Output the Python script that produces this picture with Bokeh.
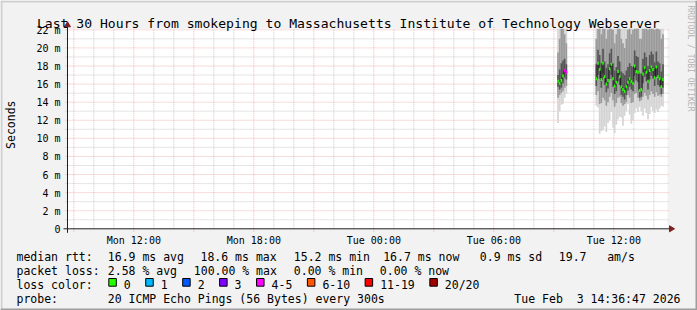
import math
from bokeh.plotting import figure
from bokeh.models import Range1d, Label
from bokeh.core.properties import value
from bokeh.embed import file_html
from bokeh.resources import INLINE

# ---------------- data ----------------
title_text = "Last 30 Hours from smokeping to Massachusetts Institute of Technology Webserver"
y_label = "Seconds"
y_ticks = [0, 2, 4, 6, 8, 10, 12, 14, 16, 18, 20, 22]
y_tick_labels = ["0", "2 m", "4 m", "6 m", "8 m", "10 m", "12 m", "14 m", "16 m", "18 m", "20 m", "22 m"]
x_tick_labels = ["Mon 12:00", "Mon 18:00", "Tue 00:00", "Tue 06:00", "Tue 12:00"]

graph_start = "Mon 08:41"
graph_hours = 30
y_top_ms = 22.11
step_minutes = 5

# chunk 1 (Tue ~09:10)
c1_start = "Tue 09:10"
c1_median = [16.3, 16.1, 16.4, 16.9, 17.5, 17.3]
c1_loss = [0, 0, 0, 0, 4, 4]
c1_min = [11.7, 13.0, 13.7, 13.8, 14.5, 14.9]
c1_p20 = [14.5, 14.8, 15.0, 15.2, 15.6, 15.8]
c1_p40 = [15.7, 15.4, 15.6, 16.1, 16.7, 16.5]
c1_p60 = [17.0, 17.6, 18.3, 18.6, 18.8, 18.2]
c1_p80 = [19.5, 21.0, 22.5, 22.8, 21.5, 20.5]
c1_max = [24.0, 25.0, 25.5, 25.0, 24.0, 23.0]

# chunk 2 (Tue 11:05 .. 14:30)
c2_start = "Tue 11:05"
c2_median = [16.6, 18.3, 17.6, 16.5, 18.3, 16.8, 16.0, 16.4, 17.7, 18.2, 16.6, 15.8, 16.2, 17.4,
             16.8, 15.7, 15.4, 15.2, 15.7, 16.2, 16.6, 16.3, 16.1, 18.0, 17.4, 17.3, 15.3, 15.4,
             17.1, 17.8, 17.3, 16.3, 17.5, 17.9, 17.6, 16.7, 17.9, 16.8, 16.6, 15.7, 16.5]
c2_loss = [0] * 41
c2_min = [13.6, 13.4, 10.5, 10.8, 10.9, 11.3, 10.7, 11.7, 12.0, 12.9, 11.2, 10.6, 11.5, 12.1,
          12.4, 12.3, 11.4, 12.5, 13.0, 13.8, 12.6, 11.6, 12.0, 12.8, 13.3, 12.9, 13.5, 13.0,
          12.5, 13.3, 12.8, 12.1, 12.7, 13.5, 13.0, 12.8, 13.2, 12.9, 13.3, 13.6, 13.5]
c2_p20 = [14.8, 15.2, 13.8, 13.9, 14.5, 14.2, 13.6, 14.0, 14.6, 15.0, 14.2, 13.5, 13.9, 14.5,
          14.6, 13.9, 13.6, 13.8, 14.0, 14.8, 14.5, 13.9, 14.0, 14.9, 15.0, 14.5, 14.1, 14.2,
          14.6, 15.0, 14.7, 14.3, 14.8, 15.2, 14.9, 14.6, 15.1, 14.7, 14.8, 14.6, 14.9]
c2_p40 = [15.8, 17.0, 16.6, 15.6, 17.2, 15.9, 15.1, 15.5, 16.6, 17.0, 15.7, 14.9, 15.2, 16.3,
          15.9, 14.8, 14.6, 14.3, 14.8, 15.3, 15.7, 15.4, 15.2, 16.9, 16.4, 16.2, 14.5, 14.6,
          16.1, 16.8, 16.3, 15.4, 16.5, 16.9, 16.6, 15.8, 16.8, 15.9, 15.7, 14.9, 15.6]
c2_p60 = [18.2, 19.8, 19.2, 18.3, 19.9, 18.5, 17.8, 18.2, 19.4, 19.9, 18.3, 17.5, 17.9, 19.1,
          18.5, 17.4, 17.2, 17.0, 17.5, 17.9, 18.3, 18.0, 17.9, 19.7, 19.1, 19.0, 17.1, 17.2,
          18.8, 19.5, 19.0, 18.0, 19.2, 19.6, 19.3, 18.4, 19.6, 18.5, 18.3, 17.4, 18.2]
c2_p80 = [21.0, 23.5, 23.0, 21.5, 23.5, 22.5, 21.0, 22.0, 23.0, 23.5, 22.0, 20.5, 21.5, 23.0,
          22.5, 21.0, 20.5, 20.0, 21.0, 22.0, 22.5, 21.5, 22.0, 23.5, 23.0, 22.5, 21.0, 21.0,
          22.5, 23.5, 23.0, 22.0, 23.0, 23.5, 23.0, 22.0, 23.5, 22.5, 22.0, 21.0, 21.5]
c2_max = [24, 26, 27, 25, 26, 27, 25, 26, 27, 26, 25, 25, 24, 26, 27, 25, 24, 25, 26, 24, 26,
          25, 27, 26, 25, 26, 24, 25, 26, 27, 26, 25, 26, 27, 26, 25, 26, 26, 25, 24, 25]

# legend
rtt_items = ["16.9 ms avg", "18.6 ms max", "15.2 ms min", "16.7 ms now", "0.9 ms sd", "19.7", "am/s"]
loss_items = ["2.58 % avg", "100.00 % max", "0.00 % min", "0.00 % now"]
loss_labels = ["0", "1", "2", "3", "4-5", "6-10", "11-19", "20/20"]
loss_limits = [0, 1, 2, 3, 5, 10, 19, 20]
loss_colors = ["#26ff00", "#00b8ff", "#0059ff", "#7e00ff", "#ff00ff", "#ff5500", "#ff0000", "#a10000"]
probe_text = "20 ICMP Echo Pings (56 Bytes) every 300s"
stamp_text = "Tue Feb\u00a0 3 14:36:47 2026"
watermark = "RRDTOOL / TOBI OETIKER"

# ---------------- layout (page pixels) ----------------
W, H = 697, 310
EDGE = 2
CX0, CY0 = 67.0, 228.3                   # canvas left, zero line
PXH = 1.0 / 20.0                         # hours per pixel
PXV = y_top_ms / 200.0                   # ms per pixel
MONO = "DejaVu Sans Mono"
BACK = "#f2f2f2"
SHADE_A = "#cfcfcf"
SHADE_B = "#9e9e9e"


def hours(s):
    day, hm = s.split()
    hh, mm = hm.split(":")
    return (0 if day == "Mon" else 24) + int(hh) + int(mm) / 60.0


X0 = hours(graph_start)
X1 = X0 + graph_hours


def hx(xp):
    return X0 + (xp - CX0) * PXH


def vy(yp):
    return (CY0 - yp) * PXV


p = figure(width=W, height=H, output_backend="svg", toolbar_location=None, title=None,
           x_range=Range1d(hx(0), hx(W)), y_range=Range1d(vy(H), vy(0)),
           min_border=0, x_axis_type=None, y_axis_type=None)
p.background_fill_color = BACK
p.border_fill_color = BACK
p.outline_line_color = None
p.xgrid.visible = False
p.ygrid.visible = False

# canvas
p.quad(left=[X0], right=[X1], bottom=[0], top=[y_top_ms], fill_color="#ffffff", line_color=None)

# grid
minor_v = [h for h in range(int(math.ceil(X0)), int(X1) + 1) if h % 3 != 0]
major_v = [h for h in range(int(math.ceil(X0)), int(X1) + 1) if h % 3 == 0]
minor_h = [v for v in range(1, int(y_top_ms) + 1) if v % 2 == 1]
major_h = [v for v in range(2, int(y_top_ms) + 1) if v % 2 == 0]
GRID = "#8f8f8f"
MGRID = "#de4f4f"
p.segment(x0=minor_v, x1=minor_v, y0=[0] * len(minor_v), y1=[y_top_ms] * len(minor_v),
          line_color=GRID, line_alpha=0.45, line_dash="1 1", line_width=1)
p.segment(x0=[X0 - 2 * PXH] * len(minor_h), x1=[X1 + 2 * PXH] * len(minor_h), y0=minor_h, y1=minor_h,
          line_color=GRID, line_alpha=0.45, line_dash="1 1", line_width=1)
p.segment(x0=major_v, x1=major_v, y0=[-3 * PXV] * len(major_v), y1=[y_top_ms + 2 * PXV] * len(major_v),
          line_color=MGRID, line_alpha=0.4, line_dash="1 1", line_width=1)
p.segment(x0=[X0 - 2 * PXH] * len(major_h), x1=[X1 + 2 * PXH] * len(major_h), y0=major_h, y1=major_h,
          line_color=MGRID, line_alpha=0.4, line_dash="1 1", line_width=1)

# smoke + median
dt = step_minutes / 60.0


def loss_color(c):
    for lim, col in zip(loss_limits, loss_colors):
        if c <= lim:
            return col
    return loss_colors[-1]


def draw_chunk(start, med, loss, mn, p20, p40, p60, p80, mx):
    t0 = hours(start)
    n = len(med)
    left = [t0 + i * dt for i in range(n)]
    right = [l + dt for l in left]
    mid = [l + dt / 2 for l in left]
    top = [min(v, y_top_ms) for v in mx]
    top80 = [min(v, y_top_ms) for v in p80]
    p.quad(left=left, right=right, bottom=mn, top=top, fill_color="#d4d4d4", line_color=None)
    p.quad(left=left, right=right, bottom=p20, top=top80, fill_color="#9a9a9a", line_color=None)
    p.quad(left=left, right=right, bottom=p40, top=p60, fill_color="#555555", line_color=None)
    p.step(x=left + [right[-1]], y=list(med) + [med[-1]], mode="after",
           line_color="#202020", line_width=1)
    p.rect(x=mid, y=med, width=dt, height=3, height_units="screen",
           fill_color=[loss_color(c) for c in loss], line_color=None)


draw_chunk(c1_start, c1_median, c1_loss, c1_min, c1_p20, c1_p40, c1_p60, c1_p80, c1_max)
draw_chunk(c2_start, c2_median, c2_loss, c2_min, c2_p20, c2_p40, c2_p60, c2_p80, c2_max)

# axis lines + arrows
AXIS = "#1f1f1f"
ARROW = "#801f1f"
p.segment(x0=[X0 - 4 * PXH], x1=[X1 + 4 * PXH], y0=[0], y1=[0], line_color=AXIS, line_width=1)
p.segment(x0=[X0], x1=[X0], y0=[-4 * PXV], y1=[y_top_ms + 4 * PXV], line_color=AXIS, line_width=1)
p.patch(x=[X1 + 2 * PXH, X1 + 2 * PXH, X1 + 7 * PXH], y=[-3 * PXV, 3 * PXV, 0],
        fill_color=ARROW, line_color=ARROW)
p.patch(x=[X0 - 3 * PXH, X0 + 3 * PXH, X0], y=[y_top_ms + 2 * PXV] * 2 + [y_top_ms + 7 * PXV],
        fill_color=ARROW, line_color=ARROW)

# axis tick labels (placed through the plot's own scales)
p.text(x=[hx(60)] * len(y_ticks), y=[v - 0.5 * PXV for v in y_ticks], text=y_tick_labels,
       text_font=value(MONO), text_font_size="10px", text_color="#000000",
       text_align="right", text_baseline="middle")
x_tick_vals = [hours(s) for s in x_tick_labels]
p.text(x=x_tick_vals, y=[vy(239.5)] * len(x_tick_vals), text=x_tick_labels,
       text_font=value(MONO), text_font_size="10px", text_color="#000000",
       text_align="center", text_baseline="alphabetic")
p.add_layout(Label(x=hx(10.5), y=y_top_ms / 2 + 0.45, text=y_label, angle=math.pi / 2,
                   text_align="center", text_baseline="middle", text_font=MONO,
                   text_font_size="11.5px", text_color="#000000"))

# title + watermark
p.add_layout(Label(x=hx(347.8), y=vy(23.0), text=title_text, text_align="center",
                   text_baseline="alphabetic", text_font=MONO, text_font_size="13.1px",
                   text_color="#000000"))
p.add_layout(Label(x=hx(690), y=vy(5), text=watermark, angle=-math.pi / 2, text_align="left",
                   text_baseline="middle", text_font=MONO, text_font_size="8px",
                   text_color="#b4b4b4"))

# legend block
LEG = "11.5px"
base = [256.4, 270.4, 284.4, 298.4]
col1_x = 16
rtt_x = [107.3, 200, 293.3, 382.7, 479.3, 558.3, 606.7]
loss_x = [107.3, 193.3, 293.3, 379.3]


def leg_text(xp, yp, s, align="left"):
    p.add_layout(Label(x=hx(xp), y=vy(yp), text=s, text_align=align, text_baseline="alphabetic",
                       text_font=MONO, text_font_size=LEG, text_color="#000000"))


leg_text(col1_x, base[0], "median rtt:")
for xp, s in zip(rtt_x, rtt_items):
    leg_text(xp, base[0], s)
leg_text(col1_x, base[1], "packet loss:")
for xp, s in zip(loss_x, loss_items):
    leg_text(xp, base[1], s)
leg_text(col1_x, base[2], "loss color:")
bx = 108.3
box_l, box_r, box_c = [], [], []
for lab, col in zip(loss_labels, loss_colors):
    box_l.append(hx(bx))
    box_r.append(hx(bx + 7.5))
    box_c.append(col)
    leg_text(bx + 15, base[2], lab)
    bx += 30 + 6.94 * len(lab)
p.quad(left=box_l, right=box_r, top=[vy(278.0)] * len(box_l), bottom=[vy(285.7)] * len(box_l),
       fill_color=box_c, line_color="#000000", line_width=1)
leg_text(col1_x, base[3], "probe:")
leg_text(107.3, base[3], probe_text)
leg_text(680, base[3], stamp_text, align="right")

# border shades (3-D frame of the rrdtool image)
p.quad(left=[hx(0), hx(0)], right=[hx(W), hx(EDGE)], top=[vy(0), vy(0)], bottom=[vy(EDGE), vy(H)],
       fill_color=SHADE_A, line_color=None)
p.quad(left=[hx(0), hx(W - EDGE)], right=[hx(W), hx(W)], top=[vy(H - EDGE), vy(0)],
       bottom=[vy(H), vy(H)], fill_color=SHADE_B, line_color=None)

open("out.html", "w").write(file_html(p, INLINE))
